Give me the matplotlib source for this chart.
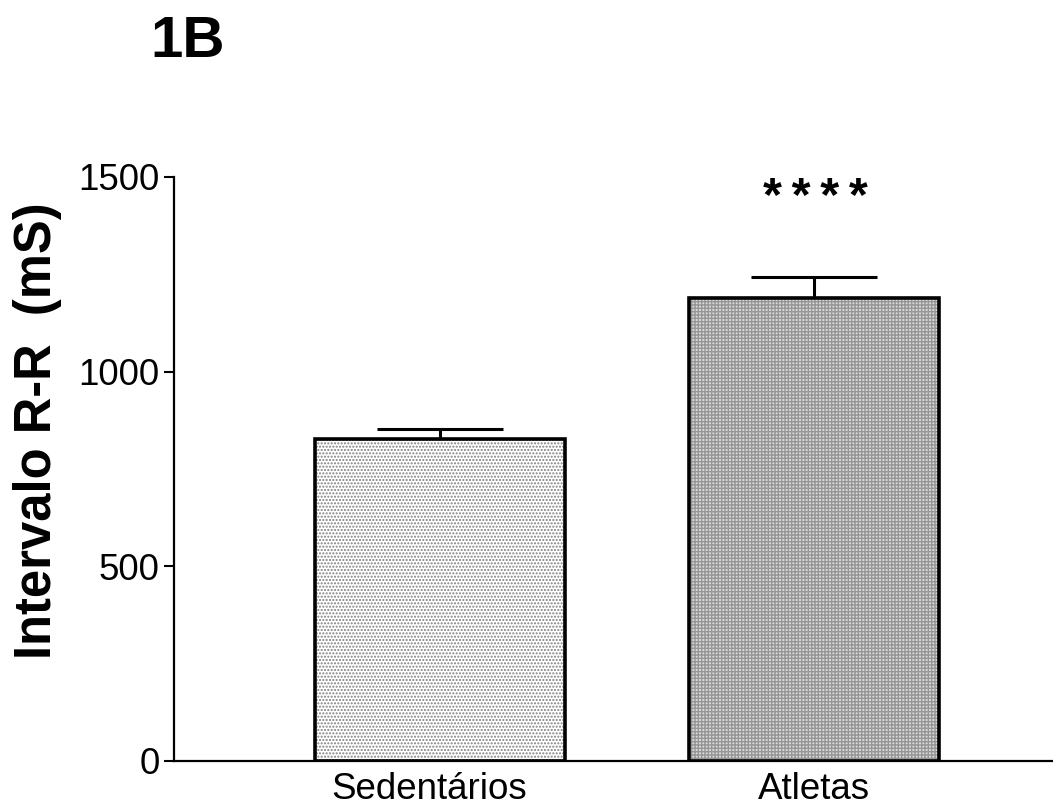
import matplotlib
matplotlib.use("Agg")
import matplotlib.pyplot as plt
import matplotlib.transforms as mtransforms

categories = ["Sedentários", "Atletas"]
means = [827, 1188]
sem = [27, 54]
yticks = [0, 500, 1000, 1500]
panel_label = "1B"
ylabel = "Intervalo R-R  (mS)"
signif = "*\u2009*\u2009*\u2009*"

plt.rcParams['font.family'] = ['Liberation Sans', 'DejaVu Sans']
plt.rcParams['hatch.linewidth'] = 1.0

fig = plt.figure(figsize=(10.53, 8.07), dpi=100)
ax = fig.add_axes([174/1053, 1-761/807, 1-174/1053, (761-177)/807])

x = [0, 1]
face = ['#ffffff', '#dadada']
hatches = ['.....', '+++++']
hcols = ['#808080', '#959595']
for xi, m, e, fc, h, hc in zip(x, means, sem, face, hatches, hcols):
    ax.bar(xi, m, width=0.668, color=fc, edgecolor=hc, hatch=h, linewidth=0, zorder=2)
    ax.bar(xi, m, width=0.668, facecolor='none', edgecolor='black', linewidth=2.6, zorder=3)
    ax.errorbar(xi, m, yerr=[[0], [e]], fmt='none', ecolor='black', elinewidth=2.2,
                capsize=45.7, capthick=2.2, zorder=1)

ax.text(1.003, 1446, signif, ha='center', va='center', fontsize=35, fontweight='bold')

ax.set_xlim(-0.711, 1.639)
ax.set_ylim(0, 1500)
ax.set_yticks(yticks)
ax.set_xticks(x)
ax.set_xticklabels(categories)
ax.tick_params(axis='y', direction='out', length=7.5, width=1.5, labelsize=26.5, pad=3)
ax.tick_params(axis='x', length=0, labelsize=26.5, pad=8)
lbl0 = ax.get_xticklabels()[0]
lbl0.set_transform(lbl0.get_transform() + mtransforms.ScaledTranslation(-0.11, 0, fig.dpi_scale_trans))
for s in ['top', 'right']:
    ax.spines[s].set_visible(False)
ax.spines['left'].set_linewidth(1.6)
ax.spines['bottom'].set_linewidth(1.6)

fig.text(38/1053, 1-431/807, ylabel, fontsize=36.5, fontweight='bold', rotation=90,
         ha='center', va='center')

fig.text(150/1053, 1-57/807, panel_label, fontsize=42, fontweight='bold', ha='left', va='baseline')

fig.savefig("out.png", dpi=100)
